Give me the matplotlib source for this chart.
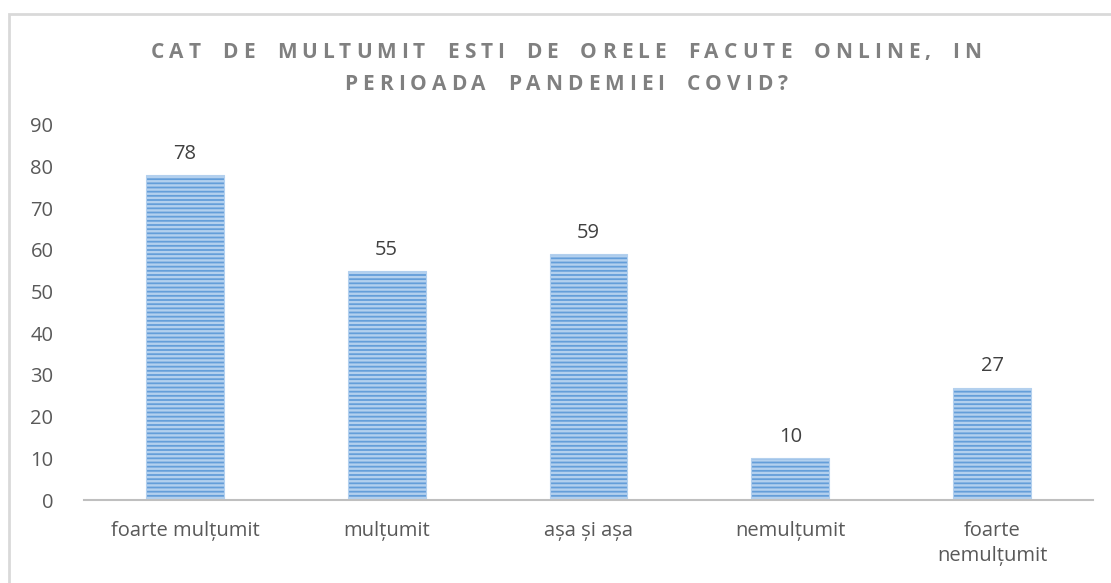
import matplotlib
matplotlib.use("Agg")
import matplotlib.pyplot as plt
from matplotlib.patches import Rectangle

categories = ["foarte mulțumit", "mulțumit", "așa și așa", "nemulțumit", "foarte\nnemulțumit"]
values = [78, 55, 59, 10, 27]
yticks = [0, 10, 20, 30, 40, 50, 60, 70, 80, 90]
title_lines = ["CAT DE MULTUMIT ESTI DE ORELE FACUTE ONLINE, IN",
               "PERIOADA PANDEMIEI COVID?"]

FONT = ["Open Sans", "DejaVu Sans"]
plt.rcParams["font.family"] = FONT
plt.rcParams["hatch.color"] = "#d6e7f7"
plt.rcParams["hatch.linewidth"] = 1.7

W, H = 1111, 583
fig = plt.figure(figsize=(W / 100, H / 100), dpi=100)
fig.patch.set_facecolor("white")

# outer chart frame
fig.add_artist(Rectangle((9 / W, -0.05), 1.2, 1 - 14 / H + 0.05,
                         transform=fig.transFigure, fill=False,
                         edgecolor="#d9d9d9", linewidth=2))

ax = fig.add_axes([84 / W, 1 - 500 / H, (1093 - 84) / W, (500 - 125) / H])
x = list(range(len(categories)))
bars = ax.bar(x, values, width=0.385, color="#649ed9", edgecolor="#b3d0ee",
              linewidth=0.8, hatch="----")

LABEL_SIZE = 14.5
ax.set_xlim(-0.5, len(categories) - 0.5)
ax.set_ylim(0, 90)
ax.set_yticks(yticks)
ax.set_yticklabels([str(t) for t in yticks])
ax.set_xticks(x)
ax.set_xticklabels(categories, linespacing=1.35)
ax.tick_params(axis="y", length=0, pad=22, labelsize=LABEL_SIZE, labelcolor="#595959")
ax.tick_params(axis="x", length=0, pad=15, labelsize=LABEL_SIZE, labelcolor="#595959")
for s in ["top", "right", "left"]:
    ax.spines[s].set_visible(False)
ax.spines["bottom"].set_color("#bfbfbf")
ax.spines["bottom"].set_linewidth(1.5)

for xi, v in zip(x, values):
    ax.annotate(str(v), (xi, v), xytext=(0, 8), textcoords="offset points",
                ha="center", va="bottom", fontsize=LABEL_SIZE, color="#404040")

# letter-spaced title, laid out character by character
fig.canvas.draw()
renderer = fig.canvas.get_renderer()
title_size = 15
tracking_px = 5
space_px = 12
centers_y = [52, 84]
cx = 566
for line, cy in zip(title_lines, centers_y):
    widths = []
    for ch in line:
        if ch == " ":
            widths.append(space_px)
            continue
        t = fig.text(0, 0, ch, fontsize=title_size, fontweight="bold")
        widths.append(t.get_window_extent(renderer).width)
        t.remove()
    total = sum(widths) + tracking_px * (len(line) - 1)
    xpos = cx - total / 2
    for ch, w in zip(line, widths):
        if ch != " ":
            fig.text(xpos / W, 1 - cy / H, ch, fontsize=title_size,
                     fontweight="bold", color="#808080", ha="left", va="center")
        xpos += w + tracking_px

fig.savefig("out.png", dpi=100)
